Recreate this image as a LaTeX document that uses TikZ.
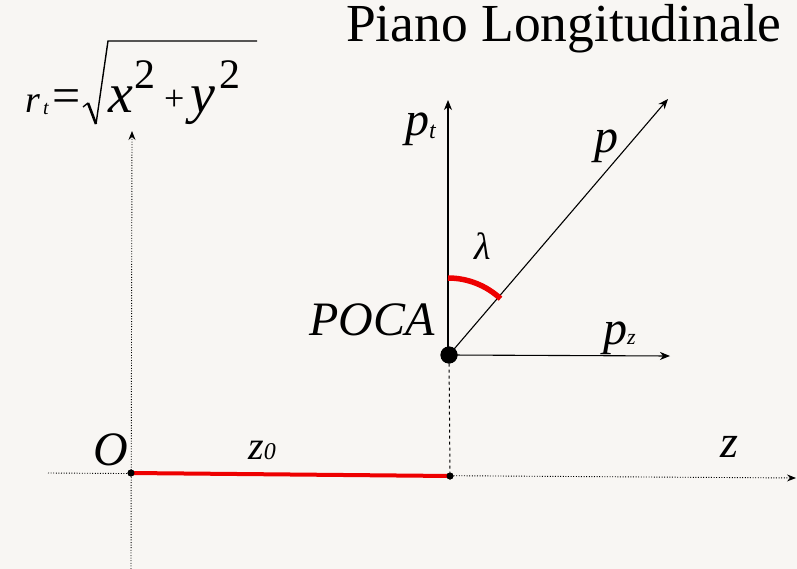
\documentclass[tikz,border=0pt]{standalone}
\usepackage{fontspec}
\setmainfont{Liberation Serif}
\usetikzlibrary{arrows.meta}
\definecolor{paper}{HTML}{F8F6F3}
\definecolor{arcred}{HTML}{EE0000}
\tikzset{
  axis/.style={line width=1.1pt,-{Stealth[length=10pt,width=8pt,inset=3pt]}},
  dotaxis/.style={line width=0.9pt,dash pattern=on 1pt off 1.6pt},
  lbl/.style={inner sep=0,anchor=base west,font=\itshape},
  smalldot/.style={circle,fill=black,inner sep=0,minimum size=7pt},
}
\begin{document}
\begin{tikzpicture}[x=1pt,y=-1pt]
\fill[paper] (0,0) rectangle (797,569);
\useasboundingbox (0,0) rectangle (797,569);

% coordinates
\coordinate (Zstart) at (48,473);
\coordinate (Zend) at (796,478);
\coordinate (Rbot) at (131,569);
\coordinate (Rtop) at (132,131);
\node[smalldot] (O) at (131,473) {};
\node[smalldot] (Z0) at (450,476) {};
\node[circle,fill=black,inner sep=0,minimum size=17pt] (POCA) at (449,355) {};
\coordinate (Pc) at (448,355);
\coordinate (PTend) at (448,100);
\coordinate (PZend) at (670,356);
\coordinate (Pend) at (668,99);

% dotted axes
\draw[dotaxis,-{Stealth[length=9pt,width=7pt,inset=3pt]}] (Zstart) -- (Zend);
\draw[dotaxis,-{Stealth[length=9pt,width=7pt,inset=3pt]}] (Rbot) -- (Rtop);
% dashed POCA projection
\draw[line width=1pt,dash pattern=on 3pt off 3pt] (POCA) -- (Z0);
% red z0 segment
\draw[arcred,line width=4pt] (O.center) -- (Z0.center);
\node[smalldot] at (O) {};
\node[smalldot] at (Z0) {};

% momentum axes
\draw[axis] (Pc) -- (PTend);
\draw[axis] (POCA.center) -- (PZend);
\draw[axis] (POCA.center) -- (Pend);
\node[circle,fill=black,inner sep=0,minimum size=17pt] at (POCA) {};
% lambda arc (y axis points down, so visual "up" is 270 degrees)
\draw[arcred,line width=5.5pt] (448,278) arc[start angle=270,end angle=313,radius=77];

% labels
\node[lbl,font=\fontsize{53.5}{53.5}\selectfont] (title) at (346,42) {Piano Longitudinale};
\node[lbl,font=\itshape\fontsize{48}{48}\selectfont] (poca) at (309,335) {POCA};
\node[lbl,font=\itshape\fontsize{48}{48}\selectfont] (ptl) at (405,136) {p\raisebox{-3pt}{\fontsize{24}{24}\selectfont t}};
\node[lbl,font=\itshape\fontsize{48}{48}\selectfont] (pl) at (594,153) {p};
\node[lbl,font=\itshape\fontsize{48}{48}\selectfont] (pzl) at (603,344) {p\fontsize{22}{22}\selectfont z};
\node[lbl,font=\itshape\fontsize{38}{38}\selectfont] (laml) at (474,259) {λ};
\node[lbl,font=\itshape\fontsize{48}{48}\selectfont] (Ol) at (93,465) {O};
\node[lbl,font=\itshape\fontsize{40}{40}\selectfont] (z0l) at (248,459) {z\fontsize{24}{24}\selectfont 0};
\node[lbl,font=\itshape\fontsize{46}{46}\selectfont] (zl) at (720,457) {z};

% formula r_t = sqrt(x^2+y^2)
\node[lbl,font=\itshape\fontsize{38}{38}\selectfont] (rr) at (25,113) {r};
\node[lbl,font=\itshape\fontsize{20}{20}\selectfont] (rt) at (43,115) {t};
\node[lbl,font=\fontsize{50}{50}\selectfont] (eq) at (52,113) {=};
\draw[line width=1.4pt,line join=round] (83,107) -- (88,103);
\draw[line width=2.6pt,line join=miter] (88,103) -- (96,124);
\draw[line width=1.4pt] (96,124) -- (108,41) -- (257,41);
\node[lbl,font=\itshape\fontsize{56}{56}\selectfont] (xx) at (108,113) {x};
\node[lbl,font=\fontsize{42}{42}\selectfont] (x2) at (134,89) {2};
\node[lbl,font=\fontsize{36}{36}\selectfont] (plus) at (164,111) {+};
\node[lbl,font=\itshape\fontsize{56}{56}\selectfont] (yy) at (190,113) {y};
\node[lbl,font=\fontsize{42}{42}\selectfont] (y2) at (219,89) {2};
\end{tikzpicture}
\end{document}
